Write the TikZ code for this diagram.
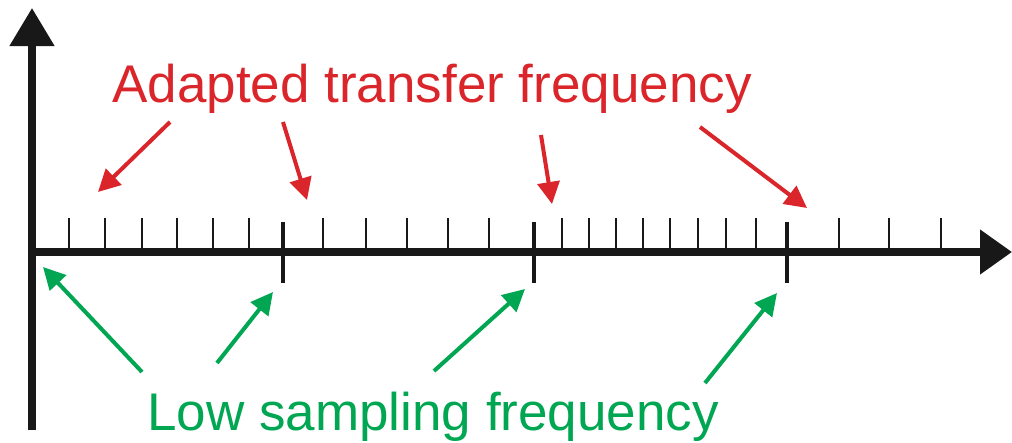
\documentclass[tikz,border=0pt]{standalone}
\usepackage{fontspec}
\setmainfont{Liberation Sans}
\usetikzlibrary{arrows.meta}
\definecolor{adaptred}{RGB}{218,37,42}
\definecolor{lowgreen}{RGB}{0,166,81}
\definecolor{axisblack}{RGB}{24,24,24}

\begin{document}
\begin{tikzpicture}[x=0.025cm, y=-0.025cm,
    axisline/.style={draw=axisblack, line width=0.18cm},
    smalltick/.style={draw=axisblack, line width=0.05cm},
    bigtick/.style={draw=axisblack, line width=0.1cm},
    redarrow/.style={draw=adaptred, line width=0.1cm, -{Triangle[length=0.55cm, width=0.55cm]}},
    greenarrow/.style={draw=lowgreen, line width=0.1cm, -{Triangle[length=0.55cm, width=0.55cm]}},
    label/.style={anchor=base west, inner sep=0pt, font=\fontsize{37.7}{40}\selectfont}]
    \useasboundingbox (0,0) rectangle (1012,442);

    % Axes
    \coordinate (origin) at (32,252);
    \coordinate (ybottom) at (32,430);
    \coordinate (ytop) at (32,8);
    \coordinate (xend) at (1012,252);
    \draw[axisline, -{Triangle[length=0.95cm, width=1.08cm]}] (ybottom) -- (ytop);
    \draw[axisline, -{Triangle[length=0.8cm, width=1.08cm]}] (origin) -- (xend);

    % Ticks
    \foreach \x in {69,105,142,177,213,249,323,366,407,448,489,562,589,616,643,670,698,726,756,839,889,941}
        \draw[smalltick] (\x,218) -- (\x,252);
    \foreach \x/\name in {283/sone,534/stwo,787/sthree} {
        \draw[bigtick] (\x,222) -- (\x,283);
    }

    % Labels
    \node (adapted) [label, text=adaptred] at (112,102) {Adapted transfer frequency};
    \node (low) [label, text=lowgreen] at (147,430) {Low sampling frequency};

    % Arrow ends
    \coordinate (rtailone) at (170,122);   \coordinate (rtipone) at (98,192);
    \coordinate (rtailtwo) at (283,122);   \coordinate (rtiptwo) at (307,200);
    \coordinate (rtailthree) at (541,135); \coordinate (rtipthree) at (552,204);
    \coordinate (rtailfour) at (700,127);  \coordinate (rtipfour) at (807,208);
    \coordinate (gtailone) at (142,372);   \coordinate (gtipone) at (43,267);
    \coordinate (gtailtwo) at (217,363);   \coordinate (gtiptwo) at (273,292);
    \coordinate (gtailthree) at (434,371); \coordinate (gtipthree) at (525,289);
    \coordinate (gtailfour) at (705,383);  \coordinate (gtipfour) at (777,293);

    % Edges
    \draw[redarrow] (rtailone) -- (rtipone);
    \draw[redarrow] (rtailtwo) -- (rtiptwo);
    \draw[redarrow] (rtailthree) -- (rtipthree);
    \draw[redarrow] (rtailfour) -- (rtipfour);
    \draw[greenarrow] (gtailone) -- (gtipone);
    \draw[greenarrow] (gtailtwo) -- (gtiptwo);
    \draw[greenarrow] (gtailthree) -- (gtipthree);
    \draw[greenarrow] (gtailfour) -- (gtipfour);
\end{tikzpicture}
\end{document}
